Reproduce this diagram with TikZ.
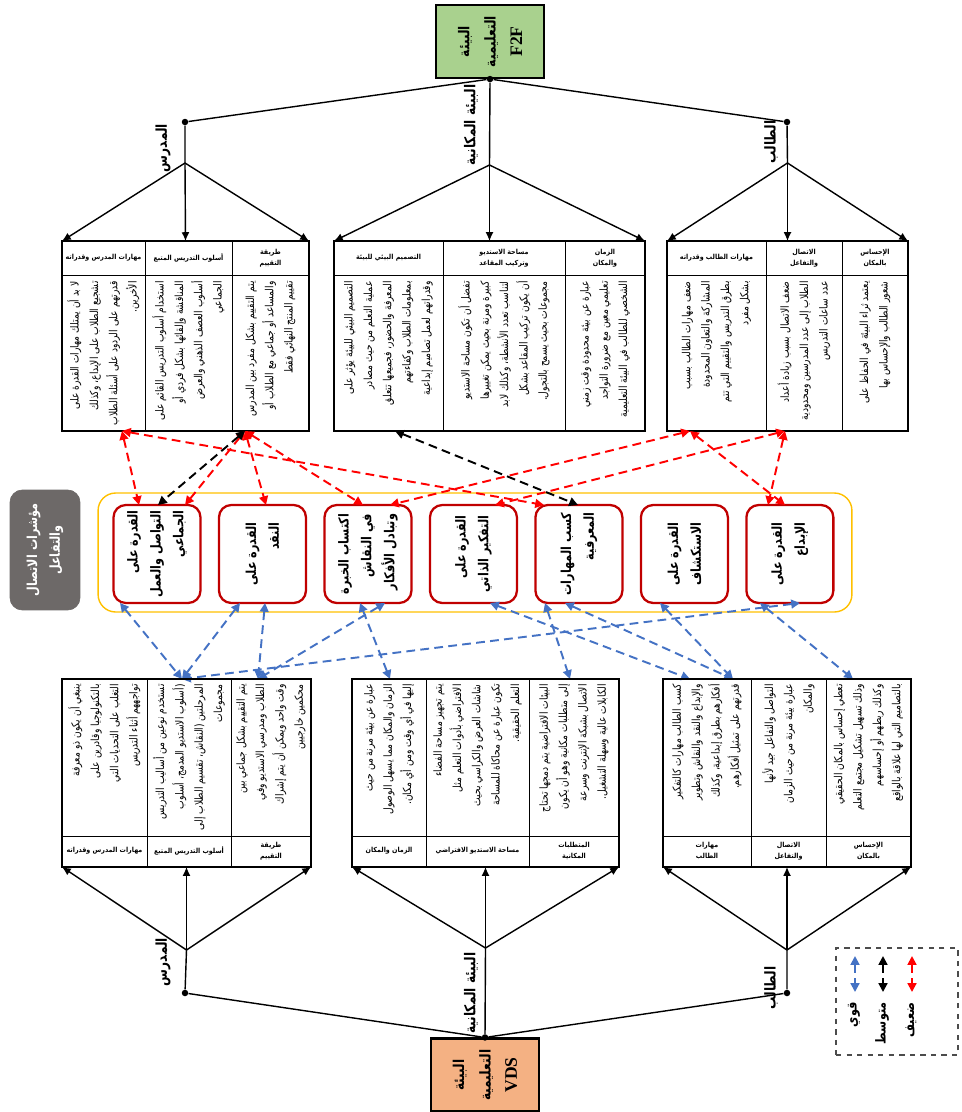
\documentclass[tikz,border=0pt]{standalone}
\usepackage{fontspec}
\usepackage{graphicx}
\setmainfont{Liberation Serif}
\newfontfamily\arabicfont[Script=Arabic,FakeStretch=0.82]{DejaVu Sans}
\TeXXeTstate=1
\usetikzlibrary{arrows.meta, positioning}

\definecolor{f2fgreen}{HTML}{A9D18E}
\definecolor{vdsorange}{HTML}{F4B183}
\definecolor{framegold}{HTML}{FFC000}
\definecolor{compred}{HTML}{C00000}
\definecolor{weakred}{HTML}{FF0000}
\definecolor{strongblue}{HTML}{4472C4}
\definecolor{labelgray}{HTML}{6D6968}

\newcommand{\arl}[1]{\beginR #1\endR}
\newcommand{\hdl}[1]{\scalebox{1}[0.9]{\beginR #1\endR}}
\newcommand{\cellfont}{\arabicfont\fontsize{6.35}{11}\selectfont}
\newcommand{\headfont}{\arabicfont\bfseries\fontsize{4.4}{6}\selectfont}
\newcommand{\compfont}{\arabicfont\bfseries\fontsize{7.8}{13}\selectfont}
\newcommand{\envfont}{\arabicfont\bfseries\fontsize{8.5}{15}\selectfont}
\newcommand{\branchfont}{\arabicfont\bfseries\fontsize{8.5}{10}\selectfont}

\begin{document}
\begin{tikzpicture}[x=0.02cm, y=-0.02cm,
    tbl/.style={draw, very thick, inner sep=0pt, outer sep=0pt},
    cellrule/.style={line width=0.5pt},
    celltxt/.style={rotate=90, anchor=east, align=right, inner sep=0pt, font=\cellfont},
    headtxt/.style={align=center, inner sep=0pt, font=\headfont},
    comp/.style={draw=compred, line width=1.3pt, rounded corners=7pt, fill=white,
      minimum width=1.74cm, minimum height=1.96cm, outer sep=0pt},
    comptxt/.style={rotate=90, align=right, font=\compfont, inner sep=0pt},
    envbox/.style={draw, line width=1.2pt, minimum width=2.16cm, minimum height=1.46cm},
    envtxt/.style={rotate=90, align=center, font=\envfont, inner sep=0pt},
    dotnode/.style={circle, fill, inner sep=0pt, minimum size=0.13cm},
    treeline/.style={line width=0.8pt},
    treearrow/.style={line width=0.8pt, -{Latex[length=5pt,width=4.5pt]}},
    branchlabel/.style={rotate=90, font=\branchfont, inner sep=0pt},
    weaklink/.style={draw=weakred, line width=1.1pt, dash pattern=on 5pt off 3pt,
      {Triangle[length=5pt,width=5pt]}-{Triangle[length=5pt,width=5pt]}},
    midlink/.style={weaklink, draw=black},
    stronglink/.style={weaklink, draw=strongblue},
  ]
  \useasboundingbox (0,0) rectangle (961,1112);

  % face to face environment
  \node[envbox, fill=f2fgreen, label={[envtxt]center:{\beginR البيئة\endR\\\beginR التعليمية\endR\\{\normalfont\bfseries\fontsize{10}{12}\selectfont F2F}}}] (f2f) at (490,41.5) {};
  \node[dotnode] (tdot) at (f2f.south) {};
  \node[dotnode] (tldot) at (185,122) {};
  \node[dotnode] (trdot) at (787,122) {};
  \coordinate (tlj) at (185,163);
  \coordinate (tcj) at (489.5,165);
  \coordinate (trj) at (787.5,163);

  \node[branchlabel] (tlteach) at (163,148) {\arl{المدرس}};
  \node[branchlabel] (tlspace) at (471,125) {\arl{البيئة المكانية}};
  \node[branchlabel] (tlstud) at (771,142) {\arl{الطالب}};

  % upper tables
  \node[tbl, minimum width=4.94cm, minimum height=3.8cm] (ul) at (185.5,336) {};
  \node[tbl, minimum width=6.22cm, minimum height=3.8cm] (um) at (489.5,336) {};
  \node[tbl, minimum width=4.82cm, minimum height=3.8cm] (ur) at (787.5,336) {};
  \draw[cellrule] (62,275) -- (309,275) (145,241) -- (145,431) (232,241) -- (232,431);
  \draw[cellrule] (334,275) -- (645,275) (443,241) -- (443,431) (565,241) -- (565,431);
  \draw[cellrule] (667,275) -- (908,275) (766,241) -- (766,431) (842,241) -- (842,431);

  \draw[treeline] (tdot) -- (tldot) (tdot) -- (trdot) (tdot) -- (tcj);
  \draw[treeline] (tldot) -- (tlj) (trdot) -- (trj);
  \draw[treearrow] (tlj) -- (ul.north west);
  \draw[treearrow] (tlj) -- (ul.north);
  \draw[treearrow] (tlj) -- (ul.north east);
  \draw[treearrow] (tcj) -- (um.north west);
  \draw[treearrow] (tcj) -- (um.north);
  \draw[treearrow] (tcj) -- (um.north east);
  \draw[treearrow] (trj) -- (ur.north west);
  \draw[treearrow] (trj) -- (ur.north);
  \draw[treearrow] (trj) -- (ur.north east);

  \node[headtxt] (ulh1) at (103.5,258) {\hdl{مهارات المدرس وقدراته}};
  \node[headtxt] (ulh2) at (188.5,258) {\hdl{أسلوب التدريس المتبع}};
  \node[headtxt] (ulh3) at (270.5,258) {\hdl{طريقة}\\\hdl{التقييم}};
  \node[headtxt] (umh1) at (388.5,258) {\hdl{التصميم البيئي للبيئة}};
  \node[headtxt] (umh2) at (504,258) {\hdl{مساحة الاستديو}\\\hdl{وتركيب المقاعد}};
  \node[headtxt] (umh3) at (605,258) {\hdl{الزمان}\\\hdl{والمكان}};
  \node[headtxt] (urh1) at (716.5,258) {\hdl{مهارات الطالب وقدراته}};
  \node[headtxt] (urh2) at (804,258) {\hdl{الاتصال}\\\hdl{والتفاعل}};
  \node[headtxt] (urh3) at (875,258) {\hdl{الإحساس}\\\hdl{بالمكان}};

  \node[celltxt] (ul1) at (103.5,281) {\arl{لا بد أن يمتلك مهارات القدرة على}\\\arl{تشجيع الطلاب على الإبداع، وكذلك}\\\arl{قدرتهم على الردود على أسئلة الطلاب}\\\arl{الأخرين.}};
  \node[celltxt] (ul2) at (188.5,281) {\arl{استخدام أسلوب التدريس القائم على}\\\arl{المناقشة وإلقائها بشكل فردي أو}\\\arl{أسلوب العصف الذهني والعرض}\\\arl{الجماعي}};
  \node[celltxt] (ul3) at (270.5,281) {\arl{يتم التقييم بشكل مفرد بين المدرس}\\\arl{والمساعد أو جماعي مع الطلاب أو}\\\arl{تقييم المنتج النهائي فقط}};
  \node[celltxt] (um1) at (388.5,281) {\arl{التصميم البيئي للبيئة يؤثر على}\\\arl{عملية التعلم من حيث مصادر}\\\arl{المعرفة والحضور، فجميعها تتعلق}\\\arl{بمعلومات الطلاب وكفاءتهم}\\\arl{وقدراتهم لعمل تصاميم إبداعية}};
  \node[celltxt] (um2) at (504,281) {\arl{تفضل أن تكون مساحة الاستديو}\\\arl{كبيرة ومرنة بحيث يمكن تغييرها}\\\arl{لتناسب تعدد الأنشطة، وكذلك لابد}\\\arl{أن يكون تركيب المقاعد بشكل}\\\arl{مجموعات بحيث يسمح بالتجول.}};
  \node[celltxt] (um3) at (605,281) {\arl{عبارة عن بيئة محدودة وقت زمني}\\\arl{تعليمي معين مع ضرورة التواجد}\\\arl{الشخصي للطالب في البيئة التعليمية}};
  \node[celltxt] (ur1) at (716.5,281) {\arl{ضعف مهارات الطالب بسبب}\\\arl{المشاركة والتعاون المحدودة}\\\arl{بطرق التدريس والتقييم التي تتم}\\\arl{بشكل مفرد}};
  \node[celltxt] (ur2) at (804,281) {\arl{ضعف الاتصال بسبب زيادة أعداد}\\\arl{الطلاب إلى عدد المدرسين ومحدودية}\\\arl{عدد ساعات التدريس}};
  \node[celltxt] (ur3) at (875,281) {\arl{يعتمد ثراء البيئة في الحفاظ على}\\\arl{شعور الطالب والإحساس بها}};

  % communication and interaction indicators
  \node[draw=labelgray, fill=labelgray, rounded corners=7pt, minimum width=1.4cm, minimum height=2.4cm,
    label={[rotate=90, align=center, text=white, font=\compfont]center:{\beginR مؤشرات الاتصال\endR\\\beginR والتفاعل\endR}}] (ind) at (45,550) {};
  \node[draw=framegold, line width=0.8pt, rounded corners=10pt, minimum width=15.08cm, minimum height=2.38cm] (frame) at (475,552.5) {};

  \node[comp, label={[comptxt]center:{\beginR القدرة على\endR\\\beginR التواصل والعمل\endR\\\beginR الجماعي\endR}}] (b1) at (157,554) {};
  \node[comp, right=0.37cm of b1, label={[comptxt]center:{\beginR القدرة على\endR\\\beginR النقد\endR}}] (b2) {};
  \node[comp, right=0.37cm of b2, label={[comptxt]center:{\beginR اكتساب الخبرة\endR\\\beginR في النقاش\endR\\\beginR وتبادل الأفكار\endR}}] (b3) {};
  \node[comp, right=0.37cm of b3, label={[comptxt]center:{\beginR القدرة على\endR\\\beginR التفكير الذاتي\endR}}] (b4) {};
  \node[comp, right=0.37cm of b4, label={[comptxt]center:{\beginR كسب المهارات\endR\\\beginR المعرفية\endR}}] (b5) {};
  \node[comp, right=0.37cm of b5, label={[comptxt]center:{\beginR القدرة على\endR\\\beginR الاستكشاف\endR}}] (b6) {};
  \node[comp, right=0.37cm of b6, label={[comptxt]center:{\beginR القدرة على\endR\\\beginR الإبداع\endR}}] (b7) {};

  % ports of the links
  \coordinate (ul-a) at (122,431);
  \coordinate (ul-b) at (245,431);
  \coordinate (um-a) at (395,431);
  \coordinate (ur-a) at (690,431);
  \coordinate (ur-b) at (785,431);
  \coordinate (b1-a) at (139,505);
  \coordinate (b1-b) at (158,505);
  \coordinate (b1-c) at (185,505);
  \coordinate (b2-a) at (266,505);
  \coordinate (b3-a) at (363,505);
  \coordinate (b3-b) at (390,505);
  \coordinate (b4-a) at (495,505);
  \coordinate (b5-a) at (544,505);
  \coordinate (b5-b) at (578,505);
  \coordinate (b7-a) at (768,505);
  \coordinate (b7-b) at (785,505);

  \draw[weaklink] (ul-a) -- (b1-a);
  \draw[weaklink] (ul-a) -- (b5-a);
  \draw[weaklink] (ul-b) -- (b1-c);
  \draw[weaklink] (ul-b) -- (b2-a);
  \draw[weaklink] (ul-b) -- (b3-a);
  \draw[weaklink] (ur-a) -- (b3-b);
  \draw[weaklink] (ur-b) -- (b4-a);
  \draw[weaklink] (ur-b) -- (b7-a);
  \draw[weaklink] (ur-a) -- (b7-b);
  \draw[midlink] (ul-b) -- (b1-b);
  \draw[midlink] (um-a) -- (b5-b);

  \coordinate (b1-s) at (120,603);
  \coordinate (b2-s) at (240,603);
  \coordinate (b2-t) at (265,603);
  \coordinate (b3-s) at (360,603);
  \coordinate (b3-t) at (385,603);
  \coordinate (b4-s) at (490,603);
  \coordinate (b5-s) at (545,603);
  \coordinate (b5-t) at (565,603);
  \coordinate (b6-s) at (660,603);
  \coordinate (b7-s) at (760,603);
  \coordinate (b7-t) at (800,603);
  \coordinate (ll-a) at (182,679);
  \coordinate (ll-b) at (258,679);
  \coordinate (lm-a) at (390,679);
  \coordinate (lm-b) at (570,679);
  \coordinate (lr-a) at (690,679);
  \coordinate (lr-b) at (733,679);
  \coordinate (lr-c) at (853,679);

  \draw[stronglink] (b1-s) -- (ll-a);
  \draw[stronglink] (b2-s) -- (ll-a);
  \draw[stronglink] (b2-t) -- (ll-b);
  \draw[stronglink] (b3-t) -- (ll-b);
  \draw[stronglink] (b3-s) -- (lm-a);
  \draw[stronglink] (b4-s) -- (lr-a);
  \draw[stronglink] (b5-s) -- (lm-b);
  \draw[stronglink] (b5-t) -- (lr-b);
  \draw[stronglink] (b6-s) -- (lr-b);
  \draw[stronglink] (b7-s) -- (lr-c);
  \draw[stronglink] (b7-t) -- (ll-a);

  % lower tables
  \node[tbl, minimum width=4.98cm, minimum height=3.76cm] (ll) at (186.5,773) {};
  \node[tbl, minimum width=5.34cm, minimum height=3.76cm] (lm) at (485.5,773) {};
  \node[tbl, minimum width=4.96cm, minimum height=3.76cm] (lr) at (787,773) {};
  \draw[cellrule] (62,836) -- (311,836) (147,679) -- (147,867) (231,679) -- (231,867);
  \draw[cellrule] (352,836) -- (619,836) (426,679) -- (426,867) (529,679) -- (529,867);
  \draw[cellrule] (663,836) -- (911,836) (751,679) -- (751,867) (826,679) -- (826,867);

  \node[celltxt] (ll1) at (104.5,684) {\arl{ينبغي أن يكون ذو معرفة}\\\arl{بالتكنولوجيا وقادرين على}\\\arl{التغلب على التحديات التي}\\\arl{تواجههم أثناء التدريس}};
  \node[celltxt] (ll2) at (189,684) {\arl{تستخدم نوعين من أساليب التدريس}\\\arl{(أسلوب الاستديو المدمج، أسلوب}\\\arl{المرحلتين (النقاش، تقسيم الطلاب إلى}\\\arl{مجموعات}};
  \node[celltxt] (ll3) at (271,684) {\arl{يتم التقييم بشكل جماعي بين}\\\arl{الطلاب ومدرسي الاستديو وفي}\\\arl{وقت واحد ويمكن أن يتم إشراك}\\\arl{محكمين خارجيين}};
  \node[celltxt] (lm1) at (389,684) {\arl{عبارة عن بيئة مرنة من حيث}\\\arl{الزمان والمكان مما يسهل الوصول}\\\arl{إليها في أي وقت ومن أي مكان.}};
  \node[celltxt] (lm2) at (477.5,684) {\arl{يتم تجهيز مساحة الفضاء}\\\arl{الافتراضي بأدوات التعلم مثل}\\\arl{شاشات العرض والكراسي بحيث}\\\arl{تكون عبارة عن محاكاة للمساحة}\\\arl{التعلم الحقيقية.}};
  \node[celltxt] (lm3) at (574,684) {\arl{البيئات الافتراضية يتم دمجها تحتاج}\\\arl{إلى متطلبات مكانية وهو أن يكون}\\\arl{الاتصال بشبكة الإنترنت وسرعة}\\\arl{الكابلات عالية وسهلة التشغيل.}};
  \node[celltxt] (lr1) at (707,684) {\arl{كسب الطالب مهارات كالتفكير}\\\arl{والإبداع والنقد والنقاش وتطوير}\\\arl{أفكارهم بطرق إبداعية، وكذلك}\\\arl{قدرتهم على تمثيل أفكارهم.}};
  \node[celltxt] (lr2) at (788.5,684) {\arl{التواصل والتفاعل جيد لأنها}\\\arl{عبارة بيئة مرنة من حيث الزمان}\\\arl{والمكان}};
  \node[celltxt] (lr3) at (868.5,684) {\arl{تعطي إحساس بالمكان الحقيقي}\\\arl{وذلك تسهيل تشكيل مجتمع التعلم}\\\arl{وكذلك ربطهم أو إحساسهم}\\\arl{بالتصاميم التي لها علاقة بالواقع}};

  \node[headtxt] (llh1) at (104.5,851) {\hdl{مهارات المدرس وقدراته}};
  \node[headtxt] (llh2) at (189,851) {\hdl{أسلوب التدريس المتبع}};
  \node[headtxt] (llh3) at (271,851) {\hdl{طريقة}\\\hdl{التقييم}};
  \node[headtxt] (lmh1) at (389,851) {\hdl{الزمان والمكان}};
  \node[headtxt] (lmh2) at (477.5,851) {\hdl{مساحة الاستديو الافتراضي}};
  \node[headtxt] (lmh3) at (574,851) {\hdl{المتطلبات}\\\hdl{المكانية}};
  \node[headtxt] (lrh1) at (707,851) {\hdl{مهارات}\\\hdl{الطالب}};
  \node[headtxt] (lrh2) at (788.5,851) {\hdl{الاتصال}\\\hdl{والتفاعل}};
  \node[headtxt] (lrh3) at (868.5,851) {\hdl{الإحساس}\\\hdl{بالمكان}};

  % virtual design studio environment
  \node[envbox, fill=vdsorange, label={[envtxt]center:{\beginR البيئة\endR\\\beginR التعليمية\endR\\{\normalfont\bfseries\fontsize{10}{12}\selectfont VDS}}}] (vds) at (485,1075) {};
  \node[dotnode] (bdot) at (vds.north) {};
  \node[dotnode] (bldot) at (185,993) {};
  \node[dotnode] (brdot) at (787,993) {};
  \coordinate (blj) at (186.5,950);
  \coordinate (bcj) at (485.5,948);
  \coordinate (brj) at (787,950);

  \draw[treeline] (bdot) -- (bldot) (bdot) -- (brdot) (bdot) -- (bcj);
  \draw[treeline] (bldot) -- (blj) (brdot) -- (brj);
  \draw[treearrow] (blj) -- (ll.south west);
  \draw[treearrow] (blj) -- (ll.south);
  \draw[treearrow] (blj) -- (ll.south east);
  \draw[treearrow] (bcj) -- (lm.south west);
  \draw[treearrow] (bcj) -- (lm.south);
  \draw[treearrow] (bcj) -- (lm.south east);
  \draw[treearrow] (brj) -- (lr.south west);
  \draw[treearrow] (brj) -- (lr.south);
  \draw[treearrow] (brj) -- (lr.south east);

  \node[branchlabel] (blteach) at (163,962) {\arl{المدرس}};
  \node[branchlabel] (blspace) at (471,993) {\arl{البيئة المكانية}};
  \node[branchlabel] (blstud) at (771,988) {\arl{الطالب}};

  % legend
  \node[draw=black!70, dashed, line width=1pt, minimum width=2.44cm, minimum height=2.14cm] (legend) at (897,1001.5) {};
  \coordinate (lg1a) at (855,956);
  \coordinate (lg1b) at (855,992);
  \coordinate (lg2a) at (883,956);
  \coordinate (lg2b) at (883,992);
  \coordinate (lg3a) at (912,956);
  \coordinate (lg3b) at (912,992);
  \draw[stronglink] (lg1a) -- (lg1b);
  \draw[midlink] (lg2a) -- (lg2b);
  \draw[weaklink] (lg3a) -- (lg3b);
  \node[branchlabel, anchor=east, font=\compfont] (lgstrong) at (854,1002) {\arl{قوي}};
  \node[branchlabel, anchor=east, font=\compfont] (lgmid) at (882,1002) {\arl{متوسط}};
  \node[branchlabel, anchor=east, font=\compfont] (lgweak) at (911,1002) {\arl{ضعيف}};
\end{tikzpicture}
\end{document}
